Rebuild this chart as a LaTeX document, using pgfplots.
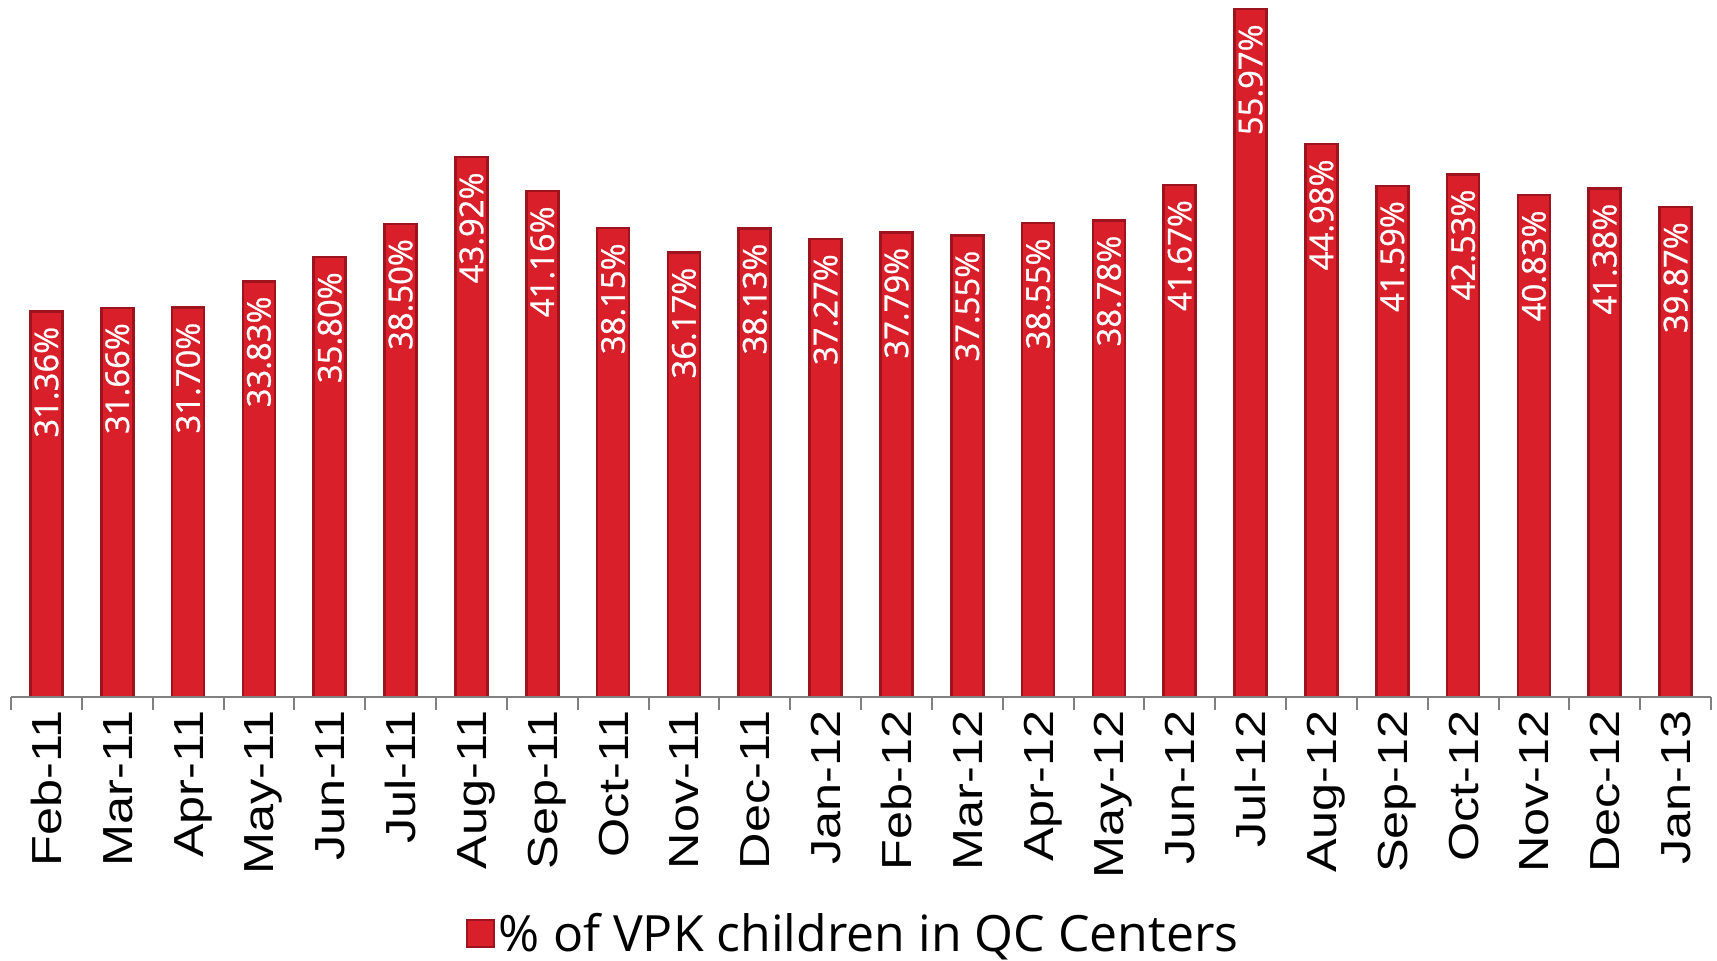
\documentclass[border=0pt]{standalone}
\usepackage{pgfplots}
\pgfplotsset{compat=1.18}
\usepackage{pgfplotstable}
\usepackage{fontspec}
\setmainfont{Liberation Sans}
\newfontfamily\tickfont{Liberation Sans}[FakeStretch=1.2]
\newfontfamily\labfont{Open Sans}[FakeBold=0.8]
\newfontfamily\legfont{Open Sans}
\definecolor{barfill}{RGB}{217,31,42}
\definecolor{baredge}{RGB}{158,20,30}
\definecolor{axgray}{RGB}{128,128,128}
\pgfplotstableread{
x y lab
0 31.36 31.36\%
1 31.66 31.66\%
2 31.70 31.70\%
3 33.83 33.83\%
4 35.80 35.80\%
5 38.50 38.50\%
6 43.92 43.92\%
7 41.16 41.16\%
8 38.15 38.15\%
9 36.17 36.17\%
10 38.13 38.13\%
11 37.27 37.27\%
12 37.79 37.79\%
13 37.55 37.55\%
14 38.55 38.55\%
15 38.78 38.78\%
16 41.67 41.67\%
17 55.97 55.97\%
18 44.98 44.98\%
19 41.59 41.59\%
20 42.53 42.53\%
21 40.83 40.83\%
22 41.38 41.38\%
23 39.87 39.87\%
}\datatable
\begin{document}
\begin{tikzpicture}
\begin{axis}[
 at={(0,0)}, anchor=south west,
 scale only axis, width=850pt, height=348.5pt,
 xmin=-0.5, xmax=23.5, ymin=0, ymax=56.71,
 ybar, bar width=16pt,
 axis x line*=bottom, axis y line=none,
 axis line style={axgray, line width=1pt},
 xtick={0,...,23},
 xticklabels={Feb-11,Mar-11,Apr-11,May-11,Jun-11,Jul-11,Aug-11,Sep-11,Oct-11,Nov-11,Dec-11,Jan-12,Feb-12,Mar-12,Apr-12,May-12,Jun-12,Jul-12,Aug-12,Sep-12,Oct-12,Nov-12,Dec-12,Jan-13},
 minor xtick={-0.5,0.5,...,23.5},
 major tick length=0pt, minor tick length=6.5pt,
 tick align=outside,
 minor tick style={axgray, line width=1pt},
 xticklabel style={rotate=90, anchor=east, inner sep=0pt, font=\tickfont\fontsize{21}{21}\selectfont, text height=15pt, text depth=0pt},
 xticklabel shift=6.5pt,
 axis on top,
 legend style={at={(0.496,-0.34)}, anchor=center, draw=none, fill=none, font=\legfont\fontsize{25}{25}\selectfont, inner sep=0pt},
]
\addplot[fill=barfill, draw=baredge, line width=1.3pt,
 nodes near coords, point meta=explicit symbolic,
 every node near coord/.append style={yshift=-7pt, rotate=90, anchor=east, text=white, font=\labfont\fontsize{16.4}{16.4}\selectfont, inner sep=0pt, text height=11.7pt, text depth=0pt},
 legend image code/.code={\draw[fill=barfill, draw=baredge, line width=1pt] (0pt,-6.75pt) rectangle (13.5pt,6.75pt);}]
 table[x=x, y=y, meta=lab]{\datatable};
\addlegendentry{\% of VPK children in QC Centers}
\end{axis}
\pgfresetboundingbox
\useasboundingbox (-5.5pt,-131.5pt) rectangle (853pt,348.5pt);
\end{tikzpicture}
\end{document}
